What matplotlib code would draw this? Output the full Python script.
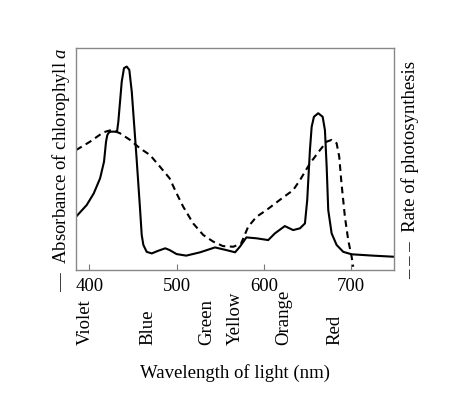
import matplotlib
matplotlib.use("Agg")
import matplotlib.pyplot as plt

plt.rcParams['font.family'] = ['Liberation Serif', 'DejaVu Serif']
plt.rcParams['mathtext.fontset'] = 'custom'
plt.rcParams['mathtext.it'] = 'Liberation Serif:italic'
plt.rcParams['mathtext.rm'] = 'Liberation Serif'

# Absorbance of chlorophyll a (solid)
abs_wl = [384.7, 397, 405, 412.3, 416.8, 419.1, 420.6, 422.5, 424.9, 431.7, 433.2, 435.2,
          437.1, 439.7, 442.8, 445.8, 448.6, 454, 458, 460, 461.9, 465.7, 471.5, 479, 487,
          492, 500, 511, 527, 544, 557, 567, 572.5, 580, 591.6, 605, 612.6, 624, 633.6,
          641.4, 647.1, 649.7, 652.8, 654.8, 657.4, 662.3, 667.4, 670, 672, 673.8, 677.7,
          683.4, 691, 700.6, 725, 749]
abs_val = [0.24, 0.293, 0.345, 0.413, 0.488, 0.578, 0.608, 0.62, 0.623, 0.623, 0.668, 0.76,
           0.848, 0.909, 0.916, 0.901, 0.803, 0.51, 0.28, 0.158, 0.113, 0.082, 0.075, 0.087,
           0.098, 0.09, 0.072, 0.065, 0.08, 0.102, 0.09, 0.08, 0.105, 0.147, 0.143, 0.135,
           0.165, 0.198, 0.18, 0.188, 0.21, 0.315, 0.54, 0.645, 0.69, 0.706, 0.69, 0.63,
           0.465, 0.27, 0.165, 0.113, 0.082, 0.071, 0.065, 0.06]

# Rate of photosynthesis (dashed)
rate_wl = [384.7, 400.8, 416, 425.6, 435, 446.6, 458, 469.5, 481, 492, 500, 507.6, 519, 530.5,
           542, 553, 565, 574, 582, 591.6, 603, 618, 633.6, 641.4, 652.8, 664.3, 672, 677.7,
           683.4, 686.4, 689, 692.9, 696.7, 700.6, 702.4]
rate_val = [0.54, 0.578, 0.62, 0.631, 0.616, 0.586, 0.548, 0.518, 0.465, 0.413, 0.345, 0.285,
            0.21, 0.158, 0.128, 0.108, 0.105, 0.12, 0.195, 0.24, 0.27, 0.315, 0.36, 0.405,
            0.48, 0.54, 0.578, 0.586, 0.571, 0.51, 0.39, 0.24, 0.135, 0.06, 0.015]

xticks = [400, 500, 600, 700]
color_names = ['Violet', 'Blue', 'Green', 'Yellow', 'Orange', 'Red']
color_pos = [395.6, 467.6, 534, 567, 623, 681]

fig = plt.figure(figsize=(4.56, 3.96), dpi=100)
ax = fig.add_axes([0.1667, 0.318, 0.697, 0.561])

ax.plot(abs_wl, abs_val, color='black', lw=1.5, solid_joinstyle='round')
ax.plot(rate_wl, rate_val, color='black', lw=1.5, ls=(0, (3.2, 2.2)))

ax.set_xlim(384.7, 749)
ax.set_ylim(0, 1)
ax.set_xticks(xticks)
ax.set_xticklabels([str(t) for t in xticks], fontsize=13.5)
ax.set_yticks([])
ax.tick_params(axis='x', direction='in', length=4, color='#777777', pad=6)
for s in ax.spines.values():
    s.set_color('#888888')
    s.set_linewidth(1.0)

for name, pos in zip(color_names, color_pos):
    ax.text(pos, -0.338, name, rotation=90, ha='center', va='bottom', fontsize=13.5,
            transform=ax.get_xaxis_transform())

ax.text(0.5, -0.464, 'Wavelength of light (nm)', ha='center', va='center', fontsize=13.5,
        transform=ax.transAxes)
ax.text(-0.048, 0.45, r'—  Absorbance of chlorophyll $\mathit{a}$', rotation=90, ha='center',
        va='center', fontsize=13.5, transform=ax.transAxes)
ax.text(1.05, 0.45, '– – –  Rate of photosynthesis', rotation=90, ha='center', va='center',
        fontsize=13.5, transform=ax.transAxes)

fig.savefig('out.png', dpi=100)
